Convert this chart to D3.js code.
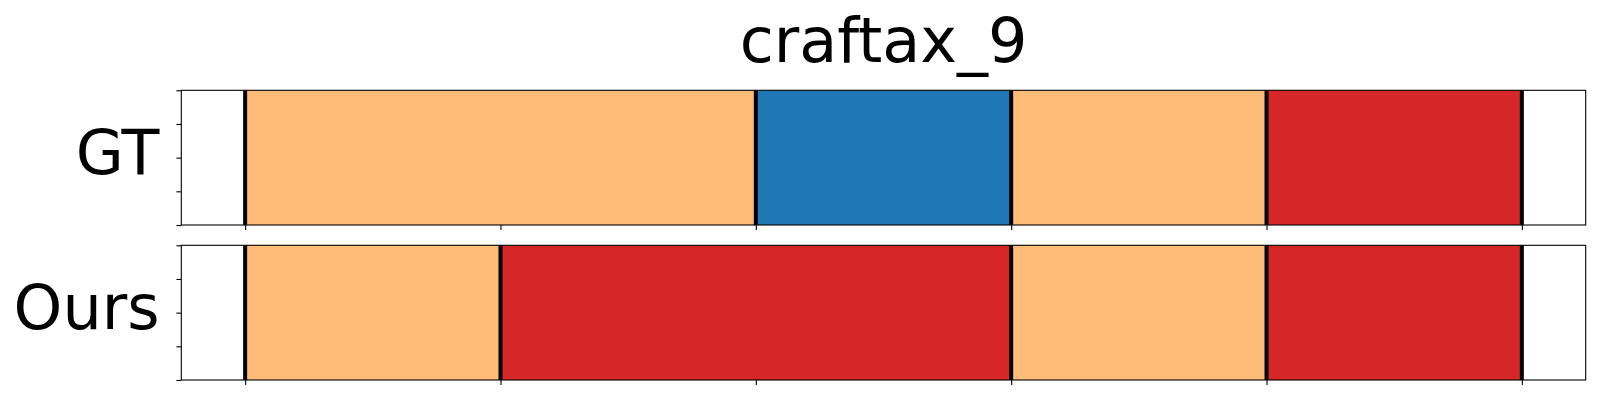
<!DOCTYPE html>
<html>
<head>
<meta charset="utf-8">
<script src="https://cdn.jsdelivr.net/npm/d3@7"></script>
<style>
html,body{margin:0;padding:0;background:#fff;}
svg{display:block;font-family:"DejaVu Sans",sans-serif;}
</style>
</head>
<body>
<svg id="chart" width="1600" height="400"></svg>
<script>
const title = "craftax_9";
const rowNames = ["GT", "Ours"];
// segment boundaries (time steps)
const boundaries = [0, 1, 2, 3, 4, 5];
// segment labels per row
const gtSegments = [
  {start: 0, end: 2, label: "a"},
  {start: 2, end: 3, label: "b"},
  {start: 3, end: 4, label: "a"},
  {start: 4, end: 5, label: "c"}
];
const oursSegments = [
  {start: 0, end: 1, label: "a"},
  {start: 1, end: 3, label: "c"},
  {start: 3, end: 4, label: "a"},
  {start: 4, end: 5, label: "c"}
];
const labelKeys = ["a", "b", "c"];
const labelColors = ["#ffbb78", "#1f77b4", "#d62728"];
const xDomain = [-0.25, 5.25];
const yTicks = [0, 0.25, 0.5, 0.75, 1];

const svg = d3.select("#chart");
const left = 181.3, right = 1585.7;
const rows = [
  {name: rowNames[0], segs: gtSegments, top: 90.3, bottom: 225},
  {name: rowNames[1], segs: oursSegments, top: 245.3, bottom: 380}
];
const x = d3.scaleLinear().domain(xDomain).range([left, right]);
const color = d3.scaleOrdinal().domain(labelKeys).range(labelColors);

svg.append("text")
  .attr("x", (left + right) / 2)
  .attr("y", 62)
  .attr("text-anchor", "middle")
  .attr("font-size", 62)
  .attr("fill", "#000")
  .text(title);

rows.forEach(r => {
  const y = d3.scaleLinear().domain([0, 1]).range([r.bottom, r.top]);
  const g = svg.append("g");
  g.selectAll("rect.seg").data(r.segs).join("rect")
    .attr("class", "seg")
    .attr("x", d => x(d.start))
    .attr("width", d => x(d.end) - x(d.start))
    .attr("y", y(1))
    .attr("height", y(0) - y(1))
    .attr("fill", d => color(d.label));
  const bset = new Set();
  r.segs.forEach(s => { bset.add(s.start); bset.add(s.end); });
  const bl = boundaries.filter(b => bset.has(b));
  g.selectAll("line.b").data(bl).join("line")
    .attr("x1", d => x(d)).attr("x2", d => x(d))
    .attr("y1", y(1)).attr("y2", y(0))
    .attr("stroke", "#000").attr("stroke-width", 4);
  const ax = g.append("g").attr("transform", `translate(0,${r.bottom})`)
    .call(d3.axisBottom(x).tickValues(boundaries).tickFormat("").tickSize(4.9).tickSizeOuter(0));
  ax.select(".domain").remove();
  ax.selectAll("line").attr("stroke-width", 1.1);
  const ay = g.append("g").attr("transform", `translate(${left},0)`)
    .call(d3.axisLeft(y).tickValues(yTicks).tickFormat("").tickSize(4.9).tickSizeOuter(0));
  ay.select(".domain").remove();
  ay.selectAll("line").attr("stroke-width", 1.1);
  g.append("rect")
    .attr("x", left).attr("y", r.top)
    .attr("width", right - left).attr("height", r.bottom - r.top)
    .attr("fill", "none").attr("stroke", "#000").attr("stroke-width", 1.1);
  g.append("text")
    .attr("x", 159.5)
    .attr("y", (r.top + r.bottom) / 2 + 16.5)
    .attr("text-anchor", "end")
    .attr("font-size", 62)
    .attr("fill", "#000")
    .text(r.name);
});
</script>
</body>
</html>
